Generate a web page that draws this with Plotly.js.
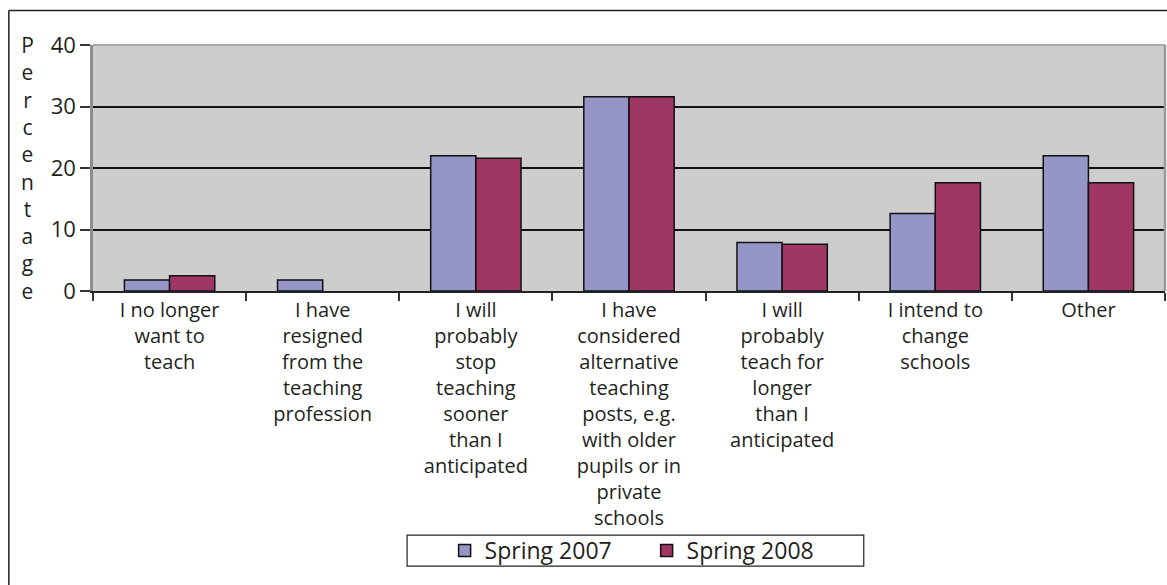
<!DOCTYPE html>
<html>
<head>
<meta charset="utf-8">
<script src="https://cdn.plot.ly/plotly-3.0.1.min.js"></script>
<style>
  html, body { margin: 0; padding: 0; background: #fff; }
  #chart { width: 1167px; height: 585px; }
</style>
</head>
<body>
<div id="chart"></div>
<script>
// answers to the survey question, one per category (line breaks as in the picture)
const categories = [
    'I no longer<br>want to<br>teach',
    'I have<br>resigned<br>from the<br>teaching<br>profession',
    'I will<br>probably<br>stop<br>teaching<br>sooner<br>than I<br>anticipated',
    'I have<br>considered<br>alternative<br>teaching<br>posts, e.g.<br>with older<br>pupils or in<br>private<br>schools',
    'I will<br>probably<br>teach for<br>longer<br>than I<br>anticipated',
    'I intend to<br>change<br>schools',
    'Other'
];

const spring2007 = [1.8, 1.8, 22.0, 31.6, 7.9, 12.6, 22.0];
const spring2008 = [2.5, 0, 21.6, 31.6, 7.6, 17.6, 17.6];

const yTicks = [0, 10, 20, 30, 40];
const yTitle = 'Percentage';

const font = '"Open Sans", "Noto Sans", sans-serif';
const textColor = '#231f20';

// no outline on an empty bar
const outline = vals => vals.map(v => (v > 0 ? 1.5 : 0));

const traces = [
    {
        x: categories,
        y: spring2007,
        name: 'Spring 2007',
        type: 'bar',
        marker: { color: '#9595c8', line: { color: '#111', width: outline(spring2007) } },
    },
    {
        x: categories,
        y: spring2008,
        name: 'Spring 2008',
        type: 'bar',
        marker: { color: '#9e3764', line: { color: '#111', width: outline(spring2008) } },
    },
];

const layout = {
    width: 1167,
    height: 585,
    margin: { l: 93, r: 2, t: 45, b: 294 },
    paper_bgcolor: '#fff',
    plot_bgcolor: '#cdcdcd',
    font: { family: font, size: 19, color: textColor },
    barmode: 'group',
    bargap: 0.41,
    bargroupgap: 0,
    showlegend: true,
    legend: {
        orientation: 'h',
        x: 0.328,
        xanchor: 'left',
        y: -1.055,
        yanchor: 'middle',
        borderwidth: 0,
        bgcolor: 'rgba(0,0,0,0)',
        font: { family: font, size: 23, color: textColor },
        entrywidth: 157,
    },
    xaxis: {
        type: 'category',
        showgrid: false,
        showline: true,
        linecolor: '#222',
        linewidth: 1.5,
        ticks: 'outside',
        tickson: 'boundaries',
        ticklen: 8,
        tickcolor: '#333',
        tickwidth: 1.5,
        tickangle: 0,
        tickfont: { family: font, size: 20, color: textColor },
    },
    yaxis: {
        range: [0, 40],
        tickvals: yTicks,
        ticktext: yTicks.map(String),
        showgrid: true,
        gridcolor: '#111',
        gridwidth: 1.5,
        zeroline: false,
        showline: true,
        linecolor: '#8c8c8c',
        linewidth: 2.5,
        ticks: 'outside',
        ticklen: 10,
        tickcolor: '#333',
        tickwidth: 1.5,
        tickfont: { family: font, size: 22, color: textColor },
    },
    annotations: [
        {
            xref: 'paper', yref: 'paper',
            x: -0.061, y: 0.5,
            xanchor: 'center', yanchor: 'middle',
            text: yTitle.split('').join('<br>'),
            showarrow: false,
            font: { family: font, size: 21, color: textColor },
        },
    ],
    shapes: [
        // outer frame (left and top edges)
        { type: 'line', xref: 'paper', yref: 'paper', x0: -0.0785, x1: -0.0785, y0: 1.14, y1: -1.2, line: { color: '#222', width: 1.5 } },
        { type: 'line', xref: 'paper', yref: 'paper', x0: -0.0785, x1: 1.01, y0: 1.14, y1: 1.14, line: { color: '#222', width: 1.5 } },
        // grey border round the plot area
        { type: 'line', xref: 'paper', yref: 'paper', x0: 0, x1: 1, y0: 1, y1: 1, line: { color: '#a8a8a8', width: 2 } },
        { type: 'line', xref: 'paper', yref: 'paper', x0: 1, x1: 1, y0: 0, y1: 1, line: { color: '#9a9a9a', width: 2.5 } },
        // legend box
        { type: 'rect', xref: 'paper', yref: 'paper', x0: 0.293, x1: 0.719, y0: -1.118, y1: -0.992, line: { color: '#222', width: 1.2 }, fillcolor: 'rgba(0,0,0,0)' },
    ],
};

Plotly.newPlot('chart', traces, layout, { displayModeBar: false });
</script>
</body>
</html>
